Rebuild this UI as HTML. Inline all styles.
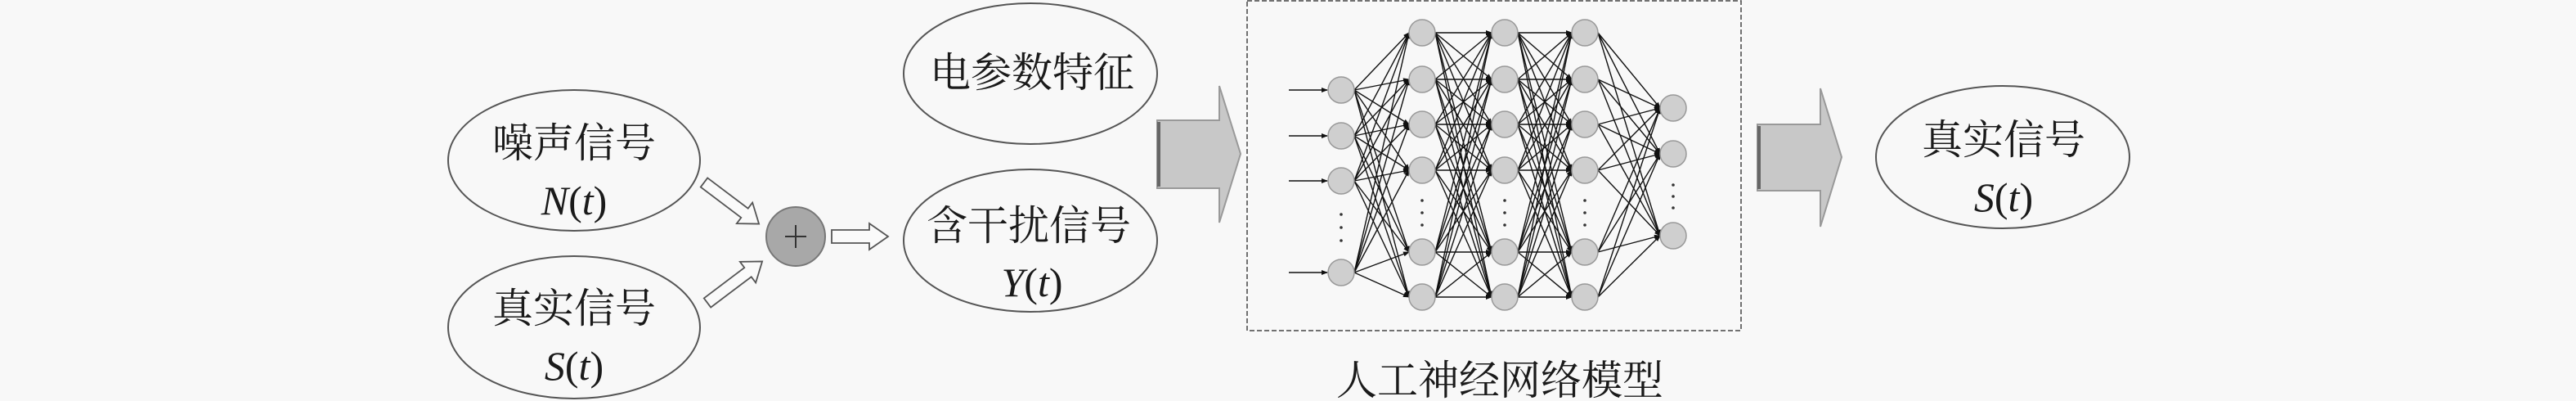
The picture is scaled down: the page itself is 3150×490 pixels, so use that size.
<!DOCTYPE html>
<html><head><meta charset="utf-8"><style>
html,body{margin:0;padding:0;background:#f8f8f8;}
svg{display:block;}
.cj{font-family:"Liberation Serif","Noto Serif CJK SC",serif;font-size:50px;fill:#1a1a1a;text-anchor:middle;}
.mt{font-family:"Liberation Serif",serif;font-size:50px;fill:#1a1a1a;text-anchor:middle;}
</style></head><body>
<svg width="3150" height="490" viewBox="0 0 3150 490" xmlns="http://www.w3.org/2000/svg">
<defs>
<marker id="ah" markerWidth="8" markerHeight="8" refX="7" refY="4" orient="auto" markerUnits="userSpaceOnUse"><path d="M0,1 L8,4 L0,7 Z" fill="#111"/></marker>
</defs>
<rect width="3150" height="490" fill="#f8f8f8"/>
<g fill="none" stroke="#555" stroke-width="2">
<ellipse cx="702" cy="196" rx="154" ry="86"/>
<ellipse cx="702" cy="400" rx="154" ry="87"/>
<ellipse cx="1260" cy="90" rx="155" ry="86"/>
<ellipse cx="1260" cy="294" rx="155" ry="87"/>
<ellipse cx="2449" cy="192" rx="155" ry="87"/>
</g>
<text class="cj" x="702" y="192">噪声信号</text>
<text class="mt" x="702" y="262"><tspan font-style="italic">N</tspan>(<tspan font-style="italic">t</tspan>)</text>
<text class="cj" x="702" y="394">真实信号</text>
<text class="mt" x="702" y="464"><tspan font-style="italic">S</tspan>(<tspan font-style="italic">t</tspan>)</text>
<text class="cj" x="1262" y="106">电参数特征</text>
<text class="cj" x="1258" y="293">含干扰信号</text>
<text class="mt" x="1262" y="362"><tspan font-style="italic">Y</tspan>(<tspan font-style="italic">t</tspan>)</text>
<text class="cj" x="2450" y="188">真实信号</text>
<text class="mt" x="2450" y="258"><tspan font-style="italic">S</tspan>(<tspan font-style="italic">t</tspan>)</text>
<circle cx="973" cy="289" r="36" fill="#a8a8a8" stroke="#777" stroke-width="2"/>
<path d="M973,275 V303 M960,289 H986" stroke="#333" stroke-width="2"/>
<g fill="#fafafa" stroke="#555" stroke-width="1.8">
<path transform="translate(861,223) rotate(37)" d="M0,-7 H62 V-16 L84,0 L62,16 V7 H0 Z"/>
<path transform="translate(865,370) rotate(-37)" d="M0,-7 H62 V-16 L84,0 L62,16 V7 H0 Z"/>
<path d="M1017,281 H1063 V273 L1086,289 L1063,305 V297 H1017 Z"/>
</g>
<g fill="#c8c8c8" stroke="#999" stroke-width="2">
<path d="M1415,147 H1491 V105 L1517,188 L1491,272 V230 H1415 Z"/>
<path d="M2149,152 H2226 V108 L2252,192 L2226,277 V233 H2149 Z"/>
</g>
<path d="M1417,149 V228" stroke="#666" stroke-width="4"/>
<path d="M2151,154 V231" stroke="#666" stroke-width="4"/>
<rect x="1525" y="1" width="604" height="403" fill="none" stroke="#444" stroke-width="1.5" stroke-dasharray="6,3"/>
<text class="cj" x="1834" y="482">人工神经网络模型</text>
<g stroke="#111" stroke-width="1.4" fill="none" marker-end="url(#ah)">
<line x1="1576" y1="110" x2="1623" y2="110"/><line x1="1576" y1="166" x2="1623" y2="166"/><line x1="1576" y1="221" x2="1623" y2="221"/><line x1="1576" y1="333" x2="1623" y2="333"/>
<!-- input -> h1 -->
<line x1="1656" y1="110" x2="1723" y2="40"/><line x1="1656" y1="110" x2="1723" y2="97"/><line x1="1656" y1="110" x2="1723" y2="152"/><line x1="1656" y1="110" x2="1723" y2="208"/><line x1="1656" y1="110" x2="1723" y2="308"/><line x1="1656" y1="110" x2="1723" y2="363"/>
<line x1="1656" y1="166" x2="1723" y2="40"/><line x1="1656" y1="166" x2="1723" y2="97"/><line x1="1656" y1="166" x2="1723" y2="152"/><line x1="1656" y1="166" x2="1723" y2="208"/><line x1="1656" y1="166" x2="1723" y2="308"/><line x1="1656" y1="166" x2="1723" y2="363"/>
<line x1="1656" y1="221" x2="1723" y2="40"/><line x1="1656" y1="221" x2="1723" y2="97"/><line x1="1656" y1="221" x2="1723" y2="152"/><line x1="1656" y1="221" x2="1723" y2="208"/><line x1="1656" y1="221" x2="1723" y2="308"/><line x1="1656" y1="221" x2="1723" y2="363"/>
<line x1="1656" y1="333" x2="1723" y2="40"/><line x1="1656" y1="333" x2="1723" y2="97"/><line x1="1656" y1="333" x2="1723" y2="152"/><line x1="1656" y1="333" x2="1723" y2="208"/><line x1="1656" y1="333" x2="1723" y2="308"/><line x1="1656" y1="333" x2="1723" y2="363"/>
<!-- h1 -> h2 -->
<line x1="1755" y1="40" x2="1824" y2="40"/><line x1="1755" y1="40" x2="1824" y2="97"/><line x1="1755" y1="40" x2="1824" y2="152"/><line x1="1755" y1="40" x2="1824" y2="208"/><line x1="1755" y1="40" x2="1824" y2="308"/><line x1="1755" y1="40" x2="1824" y2="363"/>
<line x1="1755" y1="97" x2="1824" y2="40"/><line x1="1755" y1="97" x2="1824" y2="97"/><line x1="1755" y1="97" x2="1824" y2="152"/><line x1="1755" y1="97" x2="1824" y2="208"/><line x1="1755" y1="97" x2="1824" y2="308"/><line x1="1755" y1="97" x2="1824" y2="363"/>
<line x1="1755" y1="152" x2="1824" y2="40"/><line x1="1755" y1="152" x2="1824" y2="97"/><line x1="1755" y1="152" x2="1824" y2="152"/><line x1="1755" y1="152" x2="1824" y2="208"/><line x1="1755" y1="152" x2="1824" y2="308"/><line x1="1755" y1="152" x2="1824" y2="363"/>
<line x1="1755" y1="208" x2="1824" y2="40"/><line x1="1755" y1="208" x2="1824" y2="97"/><line x1="1755" y1="208" x2="1824" y2="152"/><line x1="1755" y1="208" x2="1824" y2="208"/><line x1="1755" y1="208" x2="1824" y2="308"/><line x1="1755" y1="208" x2="1824" y2="363"/>
<line x1="1755" y1="308" x2="1824" y2="40"/><line x1="1755" y1="308" x2="1824" y2="97"/><line x1="1755" y1="308" x2="1824" y2="152"/><line x1="1755" y1="308" x2="1824" y2="208"/><line x1="1755" y1="308" x2="1824" y2="308"/><line x1="1755" y1="308" x2="1824" y2="363"/>
<line x1="1755" y1="363" x2="1824" y2="40"/><line x1="1755" y1="363" x2="1824" y2="97"/><line x1="1755" y1="363" x2="1824" y2="152"/><line x1="1755" y1="363" x2="1824" y2="208"/><line x1="1755" y1="363" x2="1824" y2="308"/><line x1="1755" y1="363" x2="1824" y2="363"/>
<!-- h2 -> h3 -->
<line x1="1856" y1="40" x2="1922" y2="40"/><line x1="1856" y1="40" x2="1922" y2="97"/><line x1="1856" y1="40" x2="1922" y2="152"/><line x1="1856" y1="40" x2="1922" y2="208"/><line x1="1856" y1="40" x2="1922" y2="308"/><line x1="1856" y1="40" x2="1922" y2="363"/>
<line x1="1856" y1="97" x2="1922" y2="40"/><line x1="1856" y1="97" x2="1922" y2="97"/><line x1="1856" y1="97" x2="1922" y2="152"/><line x1="1856" y1="97" x2="1922" y2="208"/><line x1="1856" y1="97" x2="1922" y2="308"/><line x1="1856" y1="97" x2="1922" y2="363"/>
<line x1="1856" y1="152" x2="1922" y2="40"/><line x1="1856" y1="152" x2="1922" y2="97"/><line x1="1856" y1="152" x2="1922" y2="152"/><line x1="1856" y1="152" x2="1922" y2="208"/><line x1="1856" y1="152" x2="1922" y2="308"/><line x1="1856" y1="152" x2="1922" y2="363"/>
<line x1="1856" y1="208" x2="1922" y2="40"/><line x1="1856" y1="208" x2="1922" y2="97"/><line x1="1856" y1="208" x2="1922" y2="152"/><line x1="1856" y1="208" x2="1922" y2="208"/><line x1="1856" y1="208" x2="1922" y2="308"/><line x1="1856" y1="208" x2="1922" y2="363"/>
<line x1="1856" y1="308" x2="1922" y2="40"/><line x1="1856" y1="308" x2="1922" y2="97"/><line x1="1856" y1="308" x2="1922" y2="152"/><line x1="1856" y1="308" x2="1922" y2="208"/><line x1="1856" y1="308" x2="1922" y2="308"/><line x1="1856" y1="308" x2="1922" y2="363"/>
<line x1="1856" y1="363" x2="1922" y2="40"/><line x1="1856" y1="363" x2="1922" y2="97"/><line x1="1856" y1="363" x2="1922" y2="152"/><line x1="1856" y1="363" x2="1922" y2="208"/><line x1="1856" y1="363" x2="1922" y2="308"/><line x1="1856" y1="363" x2="1922" y2="363"/>
<!-- h3 -> out -->
<line x1="1954" y1="40" x2="2030" y2="132"/><line x1="1954" y1="40" x2="2030" y2="188"/><line x1="1954" y1="40" x2="2030" y2="288"/>
<line x1="1954" y1="97" x2="2030" y2="132"/><line x1="1954" y1="97" x2="2030" y2="188"/><line x1="1954" y1="97" x2="2030" y2="288"/>
<line x1="1954" y1="152" x2="2030" y2="132"/><line x1="1954" y1="152" x2="2030" y2="188"/><line x1="1954" y1="152" x2="2030" y2="288"/>
<line x1="1954" y1="208" x2="2030" y2="132"/><line x1="1954" y1="208" x2="2030" y2="188"/><line x1="1954" y1="208" x2="2030" y2="288"/>
<line x1="1954" y1="308" x2="2030" y2="132"/><line x1="1954" y1="308" x2="2030" y2="188"/><line x1="1954" y1="308" x2="2030" y2="288"/>
<line x1="1954" y1="363" x2="2030" y2="132"/><line x1="1954" y1="363" x2="2030" y2="188"/><line x1="1954" y1="363" x2="2030" y2="288"/>
</g>
<g fill="#cfcfcf" stroke="#999" stroke-width="1.5">
<circle cx="1640" cy="110" r="16"/><circle cx="1640" cy="166" r="16"/><circle cx="1640" cy="221" r="16"/><circle cx="1640" cy="333" r="16"/>
<circle cx="1739" cy="40" r="16"/><circle cx="1739" cy="97" r="16"/><circle cx="1739" cy="152" r="16"/><circle cx="1739" cy="208" r="16"/><circle cx="1739" cy="308" r="16"/><circle cx="1739" cy="363" r="16"/>
<circle cx="1840" cy="40" r="16"/><circle cx="1840" cy="97" r="16"/><circle cx="1840" cy="152" r="16"/><circle cx="1840" cy="208" r="16"/><circle cx="1840" cy="308" r="16"/><circle cx="1840" cy="363" r="16"/>
<circle cx="1938" cy="40" r="16"/><circle cx="1938" cy="97" r="16"/><circle cx="1938" cy="152" r="16"/><circle cx="1938" cy="208" r="16"/><circle cx="1938" cy="308" r="16"/><circle cx="1938" cy="363" r="16"/>
<circle cx="2046" cy="132" r="16"/><circle cx="2046" cy="188" r="16"/><circle cx="2046" cy="288" r="16"/>
</g>
<g fill="#333">
<circle cx="1640" cy="262" r="1.8"/><circle cx="1640" cy="278" r="1.8"/><circle cx="1640" cy="294" r="1.8"/>
<circle cx="1739" cy="245" r="1.8"/><circle cx="1739" cy="260" r="1.8"/><circle cx="1739" cy="275" r="1.8"/>
<circle cx="1840" cy="245" r="1.8"/><circle cx="1840" cy="260" r="1.8"/><circle cx="1840" cy="275" r="1.8"/>
<circle cx="1938" cy="245" r="1.8"/><circle cx="1938" cy="260" r="1.8"/><circle cx="1938" cy="275" r="1.8"/>
<circle cx="2046" cy="226" r="1.8"/><circle cx="2046" cy="240" r="1.8"/><circle cx="2046" cy="254" r="1.8"/>
</g>
</svg>
</body></html>
